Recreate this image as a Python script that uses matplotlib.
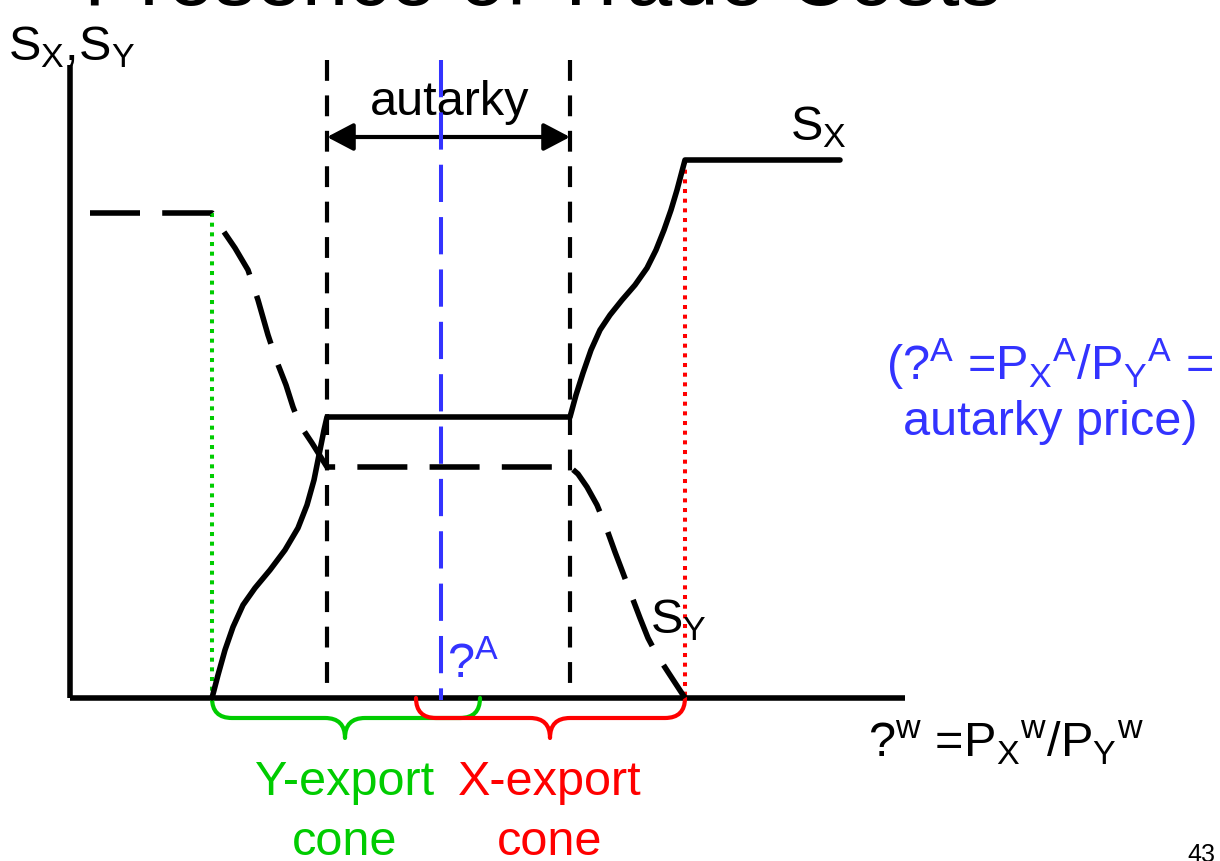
import numpy as np
import matplotlib
matplotlib.use('Agg')
import matplotlib.pyplot as plt
from matplotlib.path import Path
from matplotlib.patches import PathPatch, FancyArrowPatch

plt.rcParams['font.family'] = ['Liberation Sans', 'DejaVu Sans']
plt.rcParams['mathtext.fontset'] = 'custom'
plt.rcParams['mathtext.rm'] = 'Liberation Sans'
plt.rcParams['mathtext.it'] = 'Liberation Sans:italic'
plt.rcParams['mathtext.bf'] = 'Liberation Sans:bold'

# ---- data (x: relative world price, y: specialization / supply) ----
sx_price = [142, 148, 155, 163, 173, 185, 200, 215, 228, 237, 244, 250, 254, 257,
            500, 506, 513, 521, 530, 540, 552, 565, 577, 586, 594, 601, 607, 611, 615, 770]
sx_supply = [0, 23, 48, 71, 93, 110, 128, 148, 170, 193, 218, 248, 268, 281,
             281, 303, 325, 348, 368, 383, 398, 413, 430, 448, 468, 488, 508, 523, 538, 538]

sy_price = [20, 142, 152, 165, 178, 188, 198, 207, 216, 223, 230, 242, 257,
            500, 508, 517, 527, 536, 545, 553, 562, 570, 578, 587, 598, 615]
sy_supply = [485, 485, 469, 450, 428, 398, 363, 336, 313, 291, 273, 255, 231,
             231, 224, 211, 193, 171, 146, 125, 101, 80, 60, 43, 26, 0]

autarky_band = [257, 500]     # autarky range of world prices
autarky_price = 371           # omega^A
y_cone = [142, 410, 275]      # start, end, brace tip
x_cone = [346, 615, 480]
y_full_spec = 485             # Y supply at full specialisation
x_full_spec = 538             # X supply at full specialisation

GREEN = '#00CC00'
RED = '#FF0000'
BLUE = '#3333FF'

fig = plt.figure(figsize=(12.2, 8.61), dpi=100)
ax = fig.add_axes([0, 0, 1, 1])
ax.set_xlim(-70, 1150)
ax.set_ylim(-163, 698)
ax.axis('off')

LW = 4.0

# axes
ax.plot([0, 0], [633, 0], color='black', lw=LW, solid_capstyle='butt', zorder=3)
ax.plot([0, 835], [0, 0], color='black', lw=LW, solid_capstyle='butt', zorder=3)

# autarky boundaries
for xb in autarky_band:
    ax.plot([xb, xb], [638, 0], color='black', lw=3.0,
            linestyle=(0, (5, 3.5)), zorder=2)

# omega^A line
ax.plot([autarky_price, autarky_price], [638, -2], color=BLUE, lw=2.9,
        linestyle=(0, (9.25, 3.75)), zorder=6)

# full specialisation dotted lines
ax.plot([y_cone[0], y_cone[0]], [y_full_spec, 0], color=GREEN, lw=2.9,
        linestyle=(0, (1, 1.4)), zorder=2)
ax.plot([x_cone[1], x_cone[1]], [x_full_spec, 0], color=RED, lw=2.9,
        linestyle=(0, (1, 1.4)), zorder=2)

# supply curves
ax.plot(sx_price, sx_supply, color='black', lw=LW, solid_joinstyle='round',
        solid_capstyle='round', zorder=4)
ax.plot(sy_price, sy_supply, color='black', lw=LW, linestyle=(0, (9, 4)),
        zorder=4)

# autarky arrow
arr = FancyArrowPatch(posA=(autarky_band[0], 561), posB=(autarky_band[1], 561),
                      arrowstyle='<|-|>,head_length=0.8,head_width=0.42',
                      mutation_scale=20, lw=3.0, color='black',
                      shrinkA=0, shrinkB=0, zorder=5)
ax.add_patch(arr)


def brace(x0, x1, xt, color, z):
    yt, ym, yb, r = 0, -20, -40, 20
    verts = [(x0, yt), (x0, ym), (x0 + r, ym), (xt - r, ym),
             (xt, ym), (xt, yb), (xt, ym), (xt + r, ym),
             (x1 - r, ym), (x1, ym), (x1, yt)]
    codes = [Path.MOVETO, Path.CURVE3, Path.CURVE3, Path.LINETO,
             Path.CURVE3, Path.CURVE3, Path.CURVE3, Path.CURVE3,
             Path.LINETO, Path.CURVE3, Path.CURVE3]
    ax.add_patch(PathPatch(Path(verts, codes), fill=False, edgecolor=color,
                           lw=3.0, capstyle='round', joinstyle='round', zorder=z))


brace(y_cone[0], y_cone[1], y_cone[2], GREEN, 3)
brace(x_cone[0], x_cone[1], x_cone[2], RED, 3.5)

FS = 35
# title (cut off at top of slide)
ax.text(473, 693, 'Presence of Trade Costs', fontsize=60, ha='center',
        va='baseline', color='black', clip_on=False)
ax.text(-62, 638, r'S$_\mathrm{X}$,S$_\mathrm{Y}$', fontsize=FS, ha='left',
        va='baseline')
ax.text(380, 583, 'autarky', fontsize=FS, ha='center', va='baseline', zorder=4)
ax.text(720, 558, r'S$_\mathrm{X}$', fontsize=FS, ha='left', va='baseline')
ax.text(580, 65, r'S$_\mathrm{Y}$', fontsize=FS, ha='left', va='baseline')
ax.text(377, 20, r'?$^\mathrm{A}$', fontsize=FS, ha='left', va='baseline',
        color=BLUE)
ax.text(980, 318, r'(?$^\mathrm{A}$ =P$_\mathrm{X}$$^\mathrm{A}$/P$_\mathrm{Y}$$^\mathrm{A}$ =',
        fontsize=FS, ha='center', va='baseline', color=BLUE)
ax.text(980, 263, 'autarky price)', fontsize=FS, ha='center', va='baseline',
        color=BLUE)
ax.text(798, -59, r'?$^\mathrm{w}$ =P$_\mathrm{X}$$^\mathrm{w}$/P$_\mathrm{Y}$$^\mathrm{w}$',
        fontsize=FS, ha='left', va='baseline')
ax.text(275, -97, 'Y-export', fontsize=FS, ha='center', va='baseline', color=GREEN)
ax.text(480, -97, 'X-export', fontsize=FS, ha='center', va='baseline', color=RED)
ax.text(275, -157, 'cone', fontsize=FS, ha='center', va='baseline', color=GREEN)
ax.text(480, -157, 'cone', fontsize=FS, ha='center', va='baseline', color=RED)
ax.text(1117, -164, '43', fontsize=18, ha='left', va='baseline')

fig.savefig('out.png', dpi=100)
